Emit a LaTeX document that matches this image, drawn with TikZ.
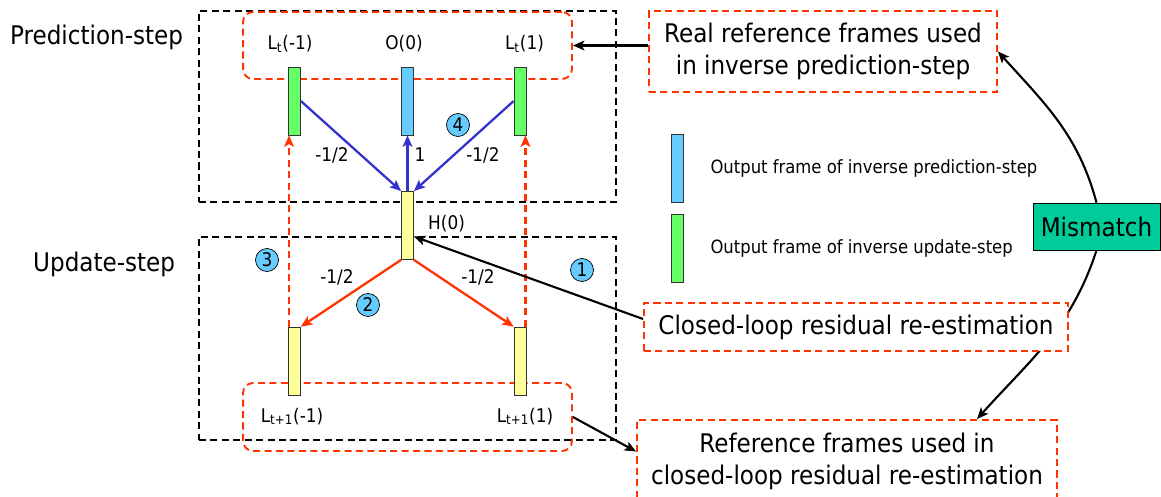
\documentclass[tikz,border=0pt]{standalone}
\usepackage{fontspec}
\setmainfont{DejaVu Sans Condensed}
\usetikzlibrary{arrows.meta,positioning}
\definecolor{lred}{HTML}{FF3300}
\definecolor{lindigo}{HTML}{3333CC}
\definecolor{lgreen}{HTML}{66FF66}
\definecolor{lblue}{HTML}{66CCFF}
\definecolor{lyellow}{HTML}{FFFF99}
\definecolor{lteal}{HTML}{00CC99}
\newcommand{\bigfont}{\fontsize{14.6}{18}\selectfont}
\newcommand{\midfont}{\fontsize{10.7}{12}\selectfont}
\newcommand{\smallfont}{\fontsize{10.4}{12}\selectfont}
\tikzset{
    %Define standard arrow tip
    >={Stealth[length=6.5pt, width=5.5pt, inset=1.5pt]},
    %Define style for frame bars
    framebar/.style={
           rectangle,
           draw = black!80, thin,
           minimum width = 0.24cm,
           minimum height = 1.36cm,
           inner sep = 0pt},
    stepnum/.style={
           circle,
           draw = black, thin, fill = lblue,
           minimum size = 0.46cm,
           inner sep = 0pt},
    % Define frame and box styles
    stepframe/.style={
           draw = black, line width = 0.9pt,
           dash pattern = on 4pt off 2.5pt},
    refgroup/.style={
           draw = lred, line width = 1.1pt,
           dash pattern = on 4pt off 2.5pt,
           rounded corners = 0.2cm},
    notebox/.style={
           draw = lred, line width = 1.1pt,
           dash pattern = on 4pt off 2.5pt,
           fill = white, align = center,
           font = \bigfont},
    mismatchbox/.style={
           draw = black, thin, fill = lteal,
           font = \bigfont},
    % Define arrow styles
    predarrow/.style={
           ->, lindigo,
           line width = 1.3pt},
    updarrow/.style={
           ->, lred,
           line width = 1.3pt},
    backarrow/.style={
           ->, lred,
           line width = 1.3pt,
           dash pattern = on 4pt off 2.5pt},
    notearrow/.style={
           ->, black,
           line width = 1.2pt}
}
\begin{document}
\begin{tikzpicture}[x=0.02cm, y=-0.02cm, font=\midfont]
\useasboundingbox (0,0) rectangle (1161,497);
 %step frames
\node[stepframe, minimum width=8.34cm, minimum height=3.82cm] (predframe) at (407.5,106.5) {};
\node[stepframe, minimum width=8.34cm, minimum height=4.06cm] (updframe) at (407.5,338.5) {};
\node[anchor=base west, font=\bigfont] (predtitle) at (4,45) {Prediction-step};
\node[anchor=base west, font=\bigfont] (updtitle) at (27,271) {Update-step};
 %reference groups
\node[refgroup, minimum width=6.58cm, minimum height=1.34cm] (topref) at (407.5,45.5) {};
\node[refgroup, minimum width=6.58cm, minimum height=1.36cm] (botref) at (407.5,417) {};
 %frames
\node[framebar, fill=lgreen] (ltm) at (294.5,101) {};
\node[framebar, fill=lblue] (oz) at (407.5,101) {};
\node[framebar, fill=lgreen] (ltp) at (520,101) {};
\node[framebar, fill=lyellow] (hz) at (407.5,225.5) {};
\node[framebar, fill=lyellow] (lum) at (294.5,361) {};
\node[framebar, fill=lyellow] (lup) at (520,361) {};
 %frame labels
\node[anchor=base] (ltmlab) at (290,50) {L\textsubscript{t}(-1)};
\node[anchor=base] (ozlab) at (404,50) {O(0)};
\node[anchor=base] (ltplab) at (524.5,50) {L\textsubscript{t}(1)};
\node[anchor=base west] (hzlab) at (422,229) {H(0)};
\node[anchor=base] (lumlab) at (292,422) {L\textsubscript{t+1}(-1)};
\node[anchor=base] (luplab) at (525,422) {L\textsubscript{t+1}(1)};
 %lifting arrows
\draw[predarrow] (ltm.east) -- (hz.north west);
\draw[predarrow] (hz.north) -- (oz.south);
\draw[predarrow] (ltp.west) -- (hz.north east);
\draw[updarrow] (hz.south west) -- (lum.north east);
\draw[updarrow] (hz.south east) -- (lup.north west);
\draw[backarrow] ([xshift=0.5pt]lum.north west) -- ([xshift=0.5pt]ltm.south west);
\draw[backarrow] ([xshift=-0.5pt]lup.north east) -- ([xshift=-0.5pt]ltp.south east);
 %weights
\node (wpl) at (332,155) {-1/2};
\node (wpm) at (420,155) {1};
\node (wpr) at (483,155) {-1/2};
\node (wul) at (337,277) {-1/2};
\node (wur) at (478,277) {-1/2};
 %order of steps
\node[stepnum] (n1) at (582,270) {1};
\node[stepnum] (n2) at (368,305) {2};
\node[stepnum] (n3) at (267,260) {3};
\node[stepnum] (n4) at (458,125) {4};
 %legend
\node[framebar, fill=lblue] (legpred) at (677,168) {};
\node[framebar, fill=lgreen] (legupd) at (677,248) {};
\node[right=0.42cm of legpred, font=\smallfont] (legpredtxt) {Output frame of inverse prediction-step};
\node[right=0.42cm of legupd, font=\smallfont] (legupdtxt) {Output frame of inverse update-step};
 %notes
\node[notebox, minimum width=6.96cm, minimum height=1.62cm] (realbox) at (823,51.5) {Real reference frames used\\in inverse prediction-step};
\node[notebox, minimum width=8.4cm, minimum height=1.66cm] (reffbox) at (847,461.5) {Reference frames used in\\closed-loop residual re-estimation};
\node[mismatchbox, minimum width=2.54cm, minimum height=0.94cm] (mismatch) at (1096.5,226.5) {Mismatch};
\draw[notearrow] (mismatch.north) to[out=105, in=-48] (realbox.east);
\draw[notearrow] (mismatch.south) to[out=-108, in=48] ([xshift=2.6cm]reffbox.north);
\node[notebox, minimum width=8.48cm, minimum height=0.96cm] (closedbox) at (856,327) {Closed-loop residual re-estimation};
\draw[notearrow] (realbox.west |- topref.east) -- (topref.east);
\draw[notearrow] ([yshift=0.16cm]closedbox.west) -- (hz.-60);
\draw[notearrow] (botref.east) -- ([yshift=0.2cm]reffbox.west);
\end{tikzpicture}
\end{document}
